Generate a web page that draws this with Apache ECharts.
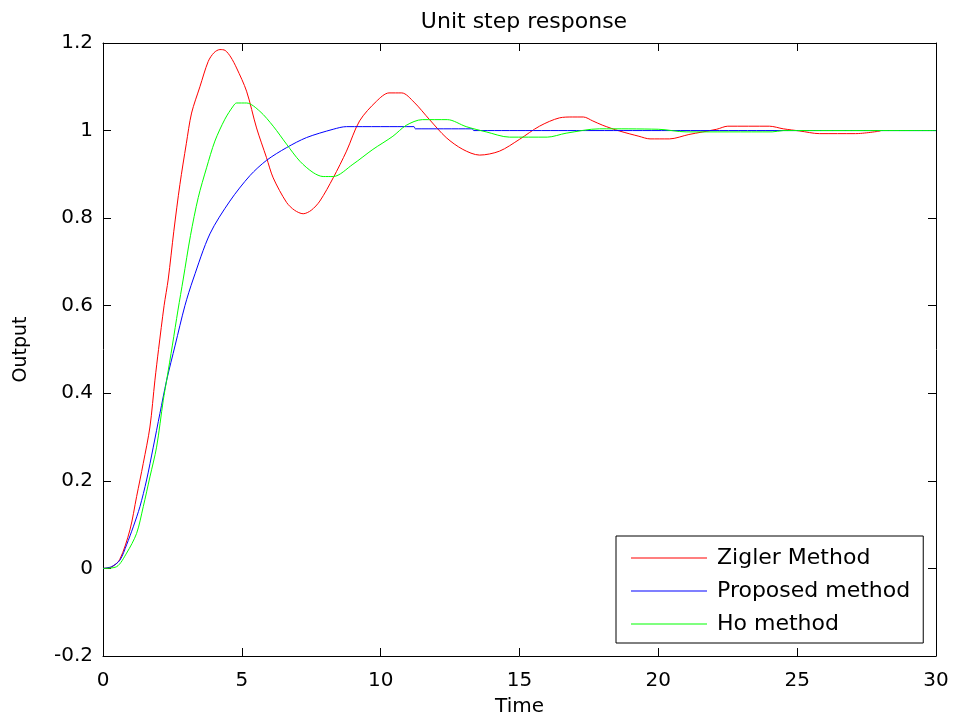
<!DOCTYPE html>
<html>
<head>
<meta charset="utf-8">
<script src="https://cdn.jsdelivr.net/npm/echarts@6/dist/echarts.min.js"></script>
<style>
  html, body { margin: 0; padding: 0; background: #fff; }
  #chart { width: 954px; height: 722px; }
</style>
</head>
<body>
<div id="chart"></div>
<script>
// data
const ziglerTime = [0, 0.3, 0.6, 0.97, 1.21, 1.45, 1.69, 1.87, 2.0, 2.2, 2.35, 2.55, 2.77, 3.0, 3.19, 3.49, 3.79, 4.0, 4.21, 4.4, 4.6, 4.81, 5.17, 5.53, 5.89, 6.13, 6.61, 6.9, 7.21, 7.5, 7.81, 8.29, 8.77, 9.24, 9.85, 10.3, 10.76, 11.2, 11.76, 12.36, 12.96, 13.56, 14.28, 15.0, 15.72, 16.44, 16.9, 17.3, 17.64, 18.0, 18.6, 19.3, 19.7, 20.4, 21.1, 22.1, 22.5, 24.0, 24.5, 25.1, 25.8, 27.1, 28.0];
const ziglerOut = [0, 0.003, 0.02, 0.088, 0.164, 0.24, 0.323, 0.43, 0.5, 0.6, 0.661, 0.77, 0.877, 0.97, 1.04, 1.1, 1.158, 1.178, 1.185, 1.183, 1.168, 1.143, 1.09, 1.006, 0.938, 0.892, 0.836, 0.818, 0.81, 0.818, 0.839, 0.892, 0.953, 1.022, 1.067, 1.086, 1.086, 1.065, 1.025, 0.984, 0.957, 0.944, 0.953, 0.98, 1.01, 1.029, 1.031, 1.031, 1.022, 1.012, 0.999, 0.987, 0.981, 0.981, 0.991, 1.003, 1.01, 1.01, 1.004, 0.999, 0.993, 0.993, 0.999];

const proposedTime = [0, 0.31, 0.61, 0.85, 1.09, 1.33, 1.57, 1.81, 2.05, 2.29, 2.6, 2.95, 3.25, 3.85, 4.57, 5.29, 5.89, 6.61, 7.33, 8.29, 8.77, 11.2, 11.25, 13.3, 13.35, 30];
const proposedOut = [0, 0.004, 0.019, 0.054, 0.095, 0.141, 0.202, 0.277, 0.354, 0.429, 0.51, 0.6, 0.661, 0.764, 0.839, 0.897, 0.932, 0.961, 0.984, 1.003, 1.009, 1.009, 1.004, 1.004, 1.0, 1.0];

const hoTime = [0, 0.49, 0.85, 1.21, 1.45, 1.69, 1.93, 2.17, 2.29, 2.5, 2.7, 2.89, 3.15, 3.43, 3.73, 4.03, 4.39, 4.69, 4.81, 5.17, 5.65, 6.13, 6.61, 7.09, 7.57, 7.93, 8.29, 9.0, 9.72, 10.44, 10.92, 11.5, 12.4, 13.08, 13.8, 14.64, 16.0, 16.68, 17.88, 20.0, 21.0, 24.1, 24.5, 30];
const hoOut = [0, 0.004, 0.035, 0.08, 0.141, 0.209, 0.277, 0.384, 0.429, 0.51, 0.59, 0.661, 0.76, 0.847, 0.915, 0.976, 1.026, 1.056, 1.063, 1.063, 1.044, 1.01, 0.969, 0.93, 0.904, 0.895, 0.895, 0.923, 0.957, 0.987, 1.012, 1.025, 1.025, 1.009, 0.997, 0.985, 0.985, 0.994, 1.004, 1.003, 0.997, 0.997, 1.0, 1.0];

const seriesNames = ['Zigler Method', 'Proposed method', 'Ho method'];
const xTicks = { min: 0, max: 30, interval: 5 };
const yTicks = { min: -0.2, max: 1.2, interval: 0.2 };

const zip = (xs, ys) => xs.map((x, i) => [x, ys[i]]);

const font = 'DejaVu Sans, Verdana, sans-serif';
const black = '#000';

function axisBase(show, margin) {
  return {
    axisLine: { show: true, onZero: false, lineStyle: { color: black, width: 1 } },
    axisTick: { show: true, inside: true, length: 8, lineStyle: { color: black } },
    axisLabel: {
      show: show,
      color: black,
      fontSize: 20,
      fontFamily: font,
      margin: margin
    },
    splitLine: { show: false }
  };
}

function lineSeries(name, data, color) {
  return {
    name,
    type: 'line',
    data,
    showSymbol: false,
    smooth: 0.3,
    lineStyle: { color, width: 1 },
    itemStyle: { color },
    xAxisIndex: 0,
    yAxisIndex: 0,
    animation: false
  };
}

const chart = echarts.init(document.getElementById('chart'));
const option = {
  animation: false,
  backgroundColor: '#fff',
  title: {
    text: 'Unit step response',
    left: 519,
    top: 6,
    textAlign: 'center',
    textStyle: { color: black, fontSize: 22, fontWeight: 'normal', fontFamily: font }
  },
  grid: { left: 103, right: 18, top: 43, bottom: 66 },
  legend: {
    orient: 'vertical',
    left: 616,
    top: 536,
    padding: [11, 13, 8, 15],
    itemWidth: 76,
    itemHeight: 1,
    itemGap: 11,
    icon: 'rect',
    borderColor: black,
    borderWidth: 1,
    backgroundColor: '#fff',
    data: seriesNames,
    textStyle: { color: black, fontSize: 22, fontFamily: font, padding: [0, 0, 0, 5] }
  },
  xAxis: [
    Object.assign(axisBase(true, 15), {
      type: 'value',
      min: xTicks.min, max: xTicks.max, interval: xTicks.interval,
      position: 'bottom',
      name: 'Time',
      nameLocation: 'middle',
      nameGap: 41,
      nameTextStyle: { color: black, fontSize: 20, fontFamily: font }
    }),
    Object.assign(axisBase(false, 8), {
      type: 'value',
      min: xTicks.min, max: xTicks.max, interval: xTicks.interval,
      position: 'top'
    })
  ],
  yAxis: [
    Object.assign(axisBase(true, 10), {
      type: 'value',
      min: yTicks.min, max: yTicks.max, interval: yTicks.interval,
      position: 'left',
      name: 'Output',
      nameLocation: 'middle',
      nameGap: 72,
      nameTextStyle: { color: black, fontSize: 19, fontFamily: font }
    }),
    Object.assign(axisBase(false, 8), {
      type: 'value',
      min: yTicks.min, max: yTicks.max, interval: yTicks.interval,
      position: 'right'
    })
  ],
  series: [
    lineSeries(seriesNames[0], zip(ziglerTime, ziglerOut), '#ff0000'),
    lineSeries(seriesNames[1], zip(proposedTime, proposedOut), '#0000ff'),
    lineSeries(seriesNames[2], zip(hoTime, hoOut), '#00ff00')
  ]
};
option.yAxis[0].axisLabel.formatter = v => String(+v.toFixed(1));
chart.setOption(option);
</script>
</body>
</html>
